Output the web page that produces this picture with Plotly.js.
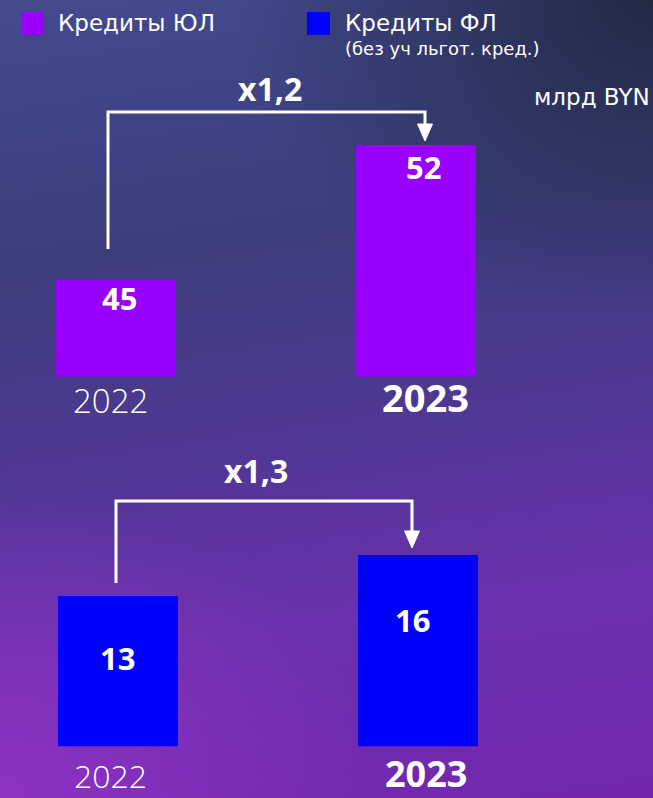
<!DOCTYPE html>
<html>
<head>
<meta charset="utf-8">
<script src="https://cdn.plot.ly/plotly-3.0.1.min.js"></script>
<style>
html,body{margin:0;padding:0;width:653px;height:798px;overflow:hidden;}
body{
  background:
    radial-gradient(ellipse 420px 320px at 100% 0%, rgba(32,40,66,0.95) 0%, rgba(32,40,66,0) 100%),
    radial-gradient(ellipse 380px 300px at 0% 100%, rgba(146,52,200,0.85) 0%, rgba(146,52,200,0) 100%),
    linear-gradient(172deg, #434a8e 0%, #3c3e7c 30%, #4e3892 52%, #6a30ad 75%, #7326b0 100%);
}
#chart{width:653px;height:798px;}
</style>
</head>
<body>
<div id="chart"></div>
<script>
// ---- data ----
const years = ['2022', '2023'];
const ulValues = [45, 52];
const flValues = [13, 16];
const legendLabels = ['Кредиты ЮЛ', 'Кредиты ФЛ'];
const flNote = '(без уч льгот. кред.)';
const unitLabel = 'млрд BYN';
const growthLabels = ['x1,2', 'x1,3'];

// ---- styling ----
const W = 653, H = 798;
const P = x => x / W;
const Q = y => 1 - y / H;
const purple = '#9900ff';
const blue = '#0000ff';
const white = '#ffffff';
const NUMFONT = '"Open Sans", "DejaVu Sans", sans-serif';
const TXTFONT = '"DejaVu Sans", "Open Sans", sans-serif';

const traces = [
  {type: 'bar', x: years, y: ulValues, xaxis: 'x', yaxis: 'y', width: 0.4,
   marker: {color: purple}, hoverinfo: 'skip'},
  {type: 'bar', x: years, y: flValues, xaxis: 'x2', yaxis: 'y2', width: 0.4,
   marker: {color: blue}, hoverinfo: 'skip'}
];

const annotations = [];
// value labels (category index positions on the category axes)
const ulShift = [[3, -18], [7, -22]];
const flShift = [[0, -62], [-6, -65]];
ulValues.forEach((v, i) => annotations.push({
  x: i, y: v, xref: 'x', yref: 'y', text: String(v), showarrow: false,
  xshift: ulShift[i][0], yshift: ulShift[i][1], yanchor: 'middle',
  font: {family: NUMFONT, size: 31, color: white, weight: 700}
}));
flValues.forEach((v, i) => annotations.push({
  x: i, y: v, xref: 'x2', yref: 'y2', text: String(v), showarrow: false,
  xshift: flShift[i][0], yshift: flShift[i][1], yanchor: 'middle',
  font: {family: NUMFONT, size: 31, color: white, weight: 700}
}));
// year labels
const yearPos = [[[110, 400], [425, 397]], [[111, 775], [426, 773]]];
const yearSize = [[33, 38], [32, 36]];
[0, 1].forEach(g => years.forEach((yr, i) => annotations.push({
  x: P(yearPos[g][i][0]), y: Q(yearPos[g][i][1]), xref: 'paper', yref: 'paper',
  text: yr, showarrow: false, borderpad: 0,
  xanchor: 'center', yanchor: 'middle',
  font: {family: NUMFONT, size: yearSize[g][i], color: white, weight: i === 1 ? 700 : 300}
})));
// growth labels
const growthPos = [[270, 88], [256, 470]];
growthLabels.forEach((t, i) => annotations.push({
  x: P(growthPos[i][0]), y: Q(growthPos[i][1]), xref: 'paper', yref: 'paper',
  text: t, showarrow: false, xanchor: 'center', yanchor: 'middle',
  font: {family: NUMFONT, size: 32, color: white, weight: 700}
}));
// legend texts
annotations.push({x: P(56), y: Q(23), xref: 'paper', yref: 'paper', text: legendLabels[0],
  showarrow: false, xanchor: 'left', yanchor: 'middle', font: {family: TXTFONT, size: 23, color: white}});
annotations.push({x: P(343), y: Q(23), xref: 'paper', yref: 'paper', text: legendLabels[1],
  showarrow: false, xanchor: 'left', yanchor: 'middle', font: {family: TXTFONT, size: 23, color: white}});
annotations.push({x: P(343), y: Q(49), xref: 'paper', yref: 'paper', text: flNote,
  showarrow: false, xanchor: 'left', yanchor: 'middle', font: {family: TXTFONT, size: 18, color: white}});
annotations.push({x: P(652), y: Q(97), xref: 'paper', yref: 'paper', text: unitLabel,
  showarrow: false, xanchor: 'right', yanchor: 'middle', font: {family: TXTFONT, size: 23, color: white}});

// brackets & arrows
function bracket(x0, yBottom, yTop, x1, yArrowTip) {
  const headTop = yArrowTip - 17;
  return [
    {type: 'path', xref: 'paper', yref: 'paper',
     path: `M ${P(x0)} ${Q(yBottom)} L ${P(x0)} ${Q(yTop)} L ${P(x1)} ${Q(yTop)} L ${P(x1)} ${Q(headTop)}`,
     line: {color: white, width: 3}},
    {type: 'path', xref: 'paper', yref: 'paper',
     path: `M ${P(x1 - 7.5)} ${Q(headTop)} L ${P(x1 + 7.5)} ${Q(headTop)} L ${P(x1)} ${Q(yArrowTip)} Z`,
     fillcolor: white, line: {color: white, width: 1}}
  ];
}
const shapes = [
  ...bracket(108, 249, 112, 425, 141),
  ...bracket(116, 583, 501, 412, 548),
  {type: 'rect', xref: 'paper', yref: 'paper', x0: P(21), x1: P(44), y0: Q(35), y1: Q(12),
   fillcolor: purple, line: {width: 0}},
  {type: 'rect', xref: 'paper', yref: 'paper', x0: P(307), x1: P(330), y0: Q(35), y1: Q(12),
   fillcolor: blue, line: {width: 0}}
];

const layout = {
  width: W, height: H,
  margin: {l: 0, r: 0, t: 0, b: 0, pad: 0},
  paper_bgcolor: 'rgba(0,0,0,0)', plot_bgcolor: 'rgba(0,0,0,0)',
  showlegend: false,
  font: {family: NUMFONT, color: white},
  xaxis: {type: 'category', range: [-0.3867, 1.79], domain: [0, 1], anchor: 'y', visible: false, fixedrange: true},
  yaxis: {range: [40, 56], domain: [0.5282, 0.9149], anchor: 'x', visible: false, fixedrange: true},
  xaxis2: {type: 'category', range: [-0.3933, 1.7833], domain: [0, 1], anchor: 'y2', visible: false, fixedrange: true},
  yaxis2: {range: [2, 18], domain: [0.0648, 0.3388], anchor: 'x2', visible: false, fixedrange: true},
  annotations: annotations,
  shapes: shapes
};

Plotly.newPlot('chart', traces, layout, {displayModeBar: false, staticPlot: true});
</script>
</body>
</html>
